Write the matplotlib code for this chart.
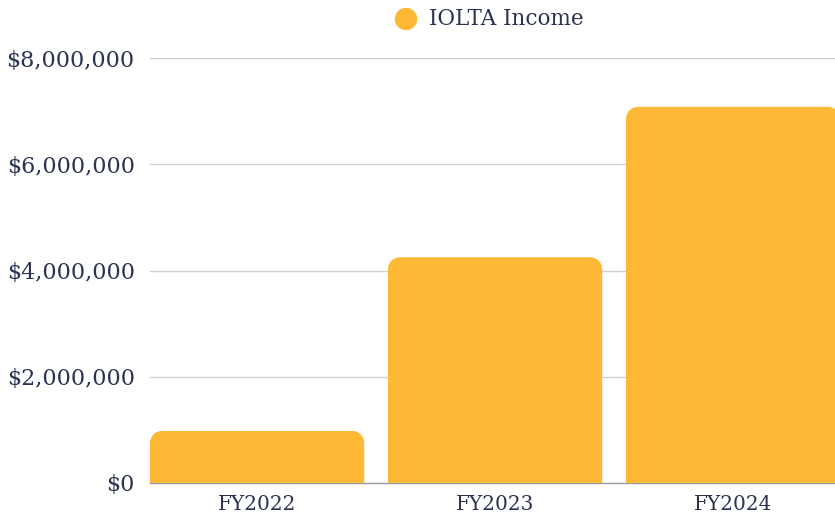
import numpy as np
import matplotlib
matplotlib.use("Agg")
import matplotlib.pyplot as plt
from matplotlib.path import Path
from matplotlib.patches import PathPatch, Ellipse
from matplotlib.ticker import FuncFormatter

# data
years = ["FY2022", "FY2023", "FY2024"]
income = [980000, 4250000, 7080000]
yticks = [0, 2000000, 4000000, 6000000, 8000000]

bar_color = "#FDB935"
text_color = "#2B3350"
grid_color = "#CDD0D6"

plt.rcParams['font.family'] = ['DejaVu Serif']

W, H, DPI = 835, 519, 100
fig = plt.figure(figsize=(W / DPI, H / DPI), dpi=DPI)
ax = fig.add_axes([150 / W, (H - 483) / H, (835 - 150) / W, (483 - 58) / H])

x = np.arange(len(years))
width = 0.9
bars = ax.bar(x, income, width=width, color=bar_color, zorder=3)

ax.set_xlim(-0.45, -0.45 + 685 / 238)
ax.set_ylim(0, 8000000)

# swap plain bars for ones with rounded top corners
rad_px = 12
rx = rad_px * (ax.get_xlim()[1] - ax.get_xlim()[0]) / 685
ry = rad_px * 8000000 / 425
k = 0.5523
for b in bars:
    x0, y0 = b.get_x(), b.get_y()
    x1, y1 = x0 + b.get_width(), y0 + b.get_height()
    verts = [(x0, y0), (x0, y1 - ry),
             (x0, y1 - ry + k * ry), (x0 + rx - k * rx, y1), (x0 + rx, y1),
             (x1 - rx, y1),
             (x1 - rx + k * rx, y1), (x1, y1 - ry + k * ry), (x1, y1 - ry),
             (x1, y0), (x0, y0)]
    codes = [Path.MOVETO, Path.LINETO,
             Path.CURVE4, Path.CURVE4, Path.CURVE4,
             Path.LINETO,
             Path.CURVE4, Path.CURVE4, Path.CURVE4,
             Path.LINETO, Path.CLOSEPOLY]
    ax.add_patch(PathPatch(Path(verts, codes), facecolor=bar_color,
                           edgecolor="none", zorder=3))
    b.set_visible(False)

ax.set_yticks(yticks)
ax.yaxis.set_major_formatter(FuncFormatter(lambda v, p: "${:,.0f}".format(v)))
ax.set_xticks(x)
ax.set_xticklabels(years)
ax.tick_params(axis="y", length=0, pad=11, labelsize=16, labelcolor=text_color)
ax.tick_params(axis="x", length=0, pad=9, labelsize=14.5, labelcolor=text_color)

ax.grid(axis="y", color=grid_color, linewidth=1, zorder=0)
for s in ["top", "right", "left"]:
    ax.spines[s].set_visible(False)
ax.spines["bottom"].set_color("#9A9EA8")
ax.spines["bottom"].set_linewidth(1)
ax.spines["bottom"].set_zorder(2)

# legend
fig.patches.append(Ellipse((406 / W, (H - 19) / H), 21 / W, 21 / H,
                           transform=fig.transFigure, color=bar_color, figure=fig))
fig.text(429 / W, (H - 19) / H, "IOLTA Income", fontsize=15.5, color=text_color,
         va="center", ha="left")

fig.savefig("out.png", dpi=DPI)
